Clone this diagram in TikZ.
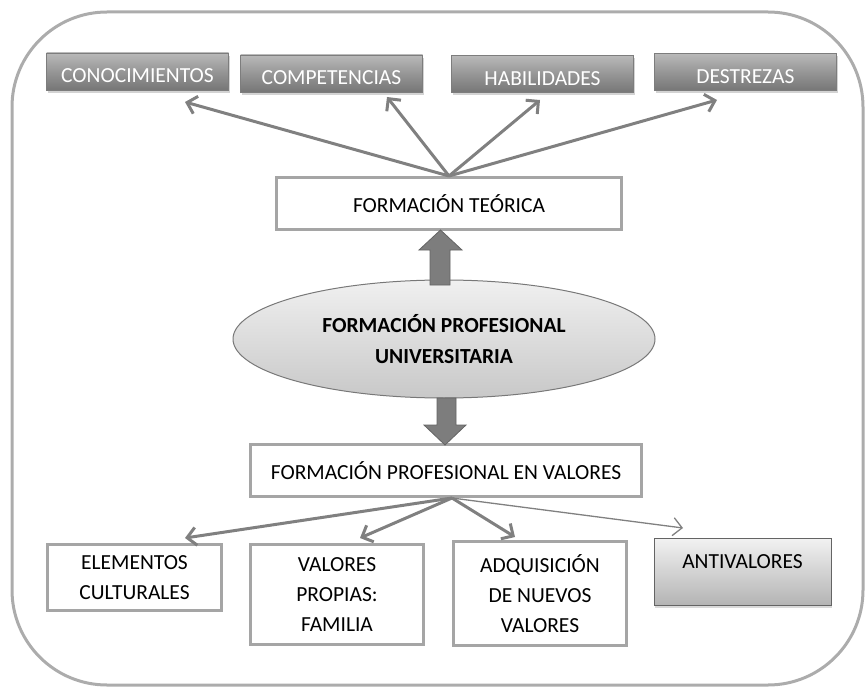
\documentclass[tikz,border=0pt]{standalone}
\usepackage{fontspec}
\setmainfont{Carlito}
\usetikzlibrary{arrows.meta,shadows,shapes.geometric}
\definecolor{framec}{RGB}{172,172,172}
\definecolor{boxline}{RGB}{165,165,165}
\definecolor{arrowc}{RGB}{128,128,128}
\definecolor{blockc}{RGB}{125,125,125}
\definecolor{blockline}{RGB}{100,100,100}
\begin{document}
\begin{tikzpicture}[x=1pt,y=-1pt,
  every node/.style={font=\fontsize{21.5}{30}\selectfont},
  topbox/.style={rectangle, draw={rgb,255:red,125;green,125;blue,125}, line width=0.8pt,
    top color={rgb,255:red,185;green,185;blue,185}, bottom color={rgb,255:red,118;green,118;blue,118},
    middle color={rgb,255:red,150;green,150;blue,150},
    text=white, minimum width=182pt, inner sep=0pt, text height=30pt, text depth=7pt,
    drop shadow={opacity=0.35, shadow xshift=1pt, shadow yshift=-3pt}},
  plainbox/.style={rectangle, draw=boxline, line width=3pt, fill=white, align=center, inner sep=0pt},
  thickarrow/.style={draw=arrowc, line width=3pt, -{Straight Barb[length=9pt,width=18pt]}},
  thinarrow/.style={draw=arrowc, line width=1.3pt, -{Straight Barb[length=9pt,width=18pt]}},
  blockarrow/.style={fill=blockc, draw=blockline, line width=0.8pt}
]
\useasboundingbox (0,0) rectangle (867,687);
% outer frame
\draw[framec, line width=3pt, rounded corners=95pt] (12,12) rectangle (863,685);

% top boxes
\node[topbox] (con) at (137.5,71.5) {CONOCIMIENTOS};
\node[topbox] (com) at (331.5,73.5) {COMPETENCIAS};
\node[topbox] (hab) at (542.5,74) {HABILIDADES};
\node[topbox] (des) at (745.5,72) {DESTREZAS};

% formacion teorica
\node[plainbox, minimum width=345pt, minimum height=52pt] (ft) at (449,203.5) {FORMACIÓN TEÓRICA};

% ellipse
\node[ellipse, draw={rgb,255:red,120;green,120;blue,120}, line width=1pt,
  top color={rgb,255:red,240;green,240;blue,240}, bottom color={rgb,255:red,200;green,200;blue,200},
  minimum width=422pt, minimum height=118pt, align=center, inner sep=0pt,
  font=\fontsize{21.5}{31}\selectfont\bfseries] (fpu) at (444,339) {FORMACIÓN PROFESIONAL\\UNIVERSITARIA};

% formacion profesional en valores
\node[plainbox, minimum width=391pt, minimum height=52pt] (fpv) at (446,470.5) {FORMACIÓN PROFESIONAL EN VALORES};

% bottom boxes
\node[plainbox, minimum width=174pt, minimum height=66pt] (ele) at (134.5,577.5) {ELEMENTOS\\CULTURALES};
\node[plainbox, minimum width=173pt, minimum height=100pt] (val) at (337,594.5) {VALORES\\PROPIAS:\\FAMILIA};
\node[plainbox, minimum width=173pt, minimum height=104pt] (adq) at (540,593.5) {ADQUISICIÓN\\DE NUEVOS\\VALORES};
\node[rectangle, draw={rgb,255:red,100;green,100;blue,100}, line width=1pt,
  top color={rgb,255:red,242;green,242;blue,242}, bottom color={rgb,255:red,180;green,180;blue,180},
  minimum width=177pt, inner sep=0pt, text height=30pt, text depth=37pt,
  drop shadow={opacity=0.3, shadow xshift=1pt, shadow yshift=-3pt}] (anti) at (742.5,571.5) {ANTIVALORES};

% arrows from formacion teorica
\coordinate (t1) at (185,102);
\coordinate (t2) at (387,97);
\coordinate (t3) at (540,100);
\coordinate (t4) at (717,100);
\draw[thickarrow] (ft.north) -- (t1);
\draw[thickarrow] (ft.north) -- (t2);
\draw[thickarrow] (ft.north) -- (t3);
\draw[thickarrow] (ft.north) -- (t4);

% block arrows
\draw[blockarrow] (430,285) -- (430,250) -- (419,250) -- (440.5,230) -- (462,250) -- (450,250) -- (450,285) -- cycle;
\draw[blockarrow] (437,398) -- (437,425) -- (424,425) -- (445,445) -- (466,425) -- (456,425) -- (456,398) -- cycle;

% arrows from formacion profesional en valores
\coordinate (fpvapex) at ([xshift=6pt]fpv.south);
\coordinate (b1) at (185,538);
\coordinate (b2) at (360,538);
\coordinate (b3) at (515,537);
\coordinate (b4) at (683,528);
\draw[thickarrow] (fpvapex) -- (b1);
\draw[thickarrow] (fpvapex) -- (b2);
\draw[thickarrow] (fpvapex) -- (b3);
\draw[thinarrow] (fpvapex) -- (b4);
\end{tikzpicture}
\end{document}
